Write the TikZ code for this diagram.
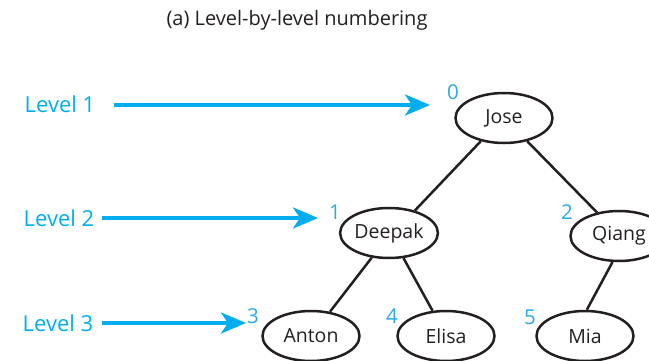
\documentclass[tikz,border=0pt]{standalone}
\usepackage{fontspec}
\setmainfont{Open Sans}
\usetikzlibrary{arrows.meta,shapes.geometric}
\definecolor{lvlblue}{RGB}{0,174,239}
\definecolor{numblue}{RGB}{41,171,226}
\definecolor{ink}{RGB}{35,31,32}
\begin{document}
\begin{tikzpicture}[x=1pt,y=-1pt,
  person/.style={ellipse,draw=ink,line width=2.5pt,minimum width=97pt,minimum height=50pt,inner sep=0pt,text=ink,font=\fontsize{19.5}{22}\selectfont},
  lvl/.style={text=lvlblue,font=\fontsize{22}{24}\selectfont,inner sep=0pt},
  num/.style={text=numblue,font=\fontsize{20.5}{22}\selectfont,inner sep=0pt},
  levelarrow/.style={draw=lvlblue,line width=4pt,-{Stealth[length=25pt,width=21pt,inset=7pt]}},
  edge/.style={draw=ink,line width=2.5pt}]
\useasboundingbox (0,0) rectangle (649,361);
\node[text=ink,font=\fontsize{20}{22}\selectfont,inner sep=0pt] (title) at (297,20) {(a) Level-by-level numbering};
% tree nodes
\node[person] (jose) at (504,118) {Jose};
\node[person] (deepak) at (389,233) {Deepak};
\node[person] (qiang) at (619,236) {Qiang};
\node[person] (anton) at (311,336) {Anton};
\node[person] (elisa) at (446,336) {Elisa};
\node[person] (mia) at (585,336) {Mia};
% numbers
\node[num] (n0) at (453,92) {0};
\node[num] (n1) at (335,212) {1};
\node[num] (n2) at (567,212) {2};
\node[num] (n3) at (253,316) {3};
\node[num] (n4) at (392,316) {4};
\node[num] (n5) at (530,317) {5};
% edges
\draw[edge] (jose.225) -- (deepak.41);
\draw[edge] (jose.315) -- (qiang.133);
\draw[edge] (deepak.235) -- (anton.52);
\draw[edge] (deepak.300) -- (elisa.118);
\draw[edge] (qiang.256) -- (mia.86);
% level labels
\node[lvl] (l1) at (60,104) {Level 1};
\node[lvl] (l2) at (59,218) {Level 2};
\node[lvl] (l3) at (58,323) {Level 3};
\coordinate (t1) at (430,105);
\coordinate (t2) at (318,218);
\coordinate (t3) at (246,323);
\coordinate (s1) at (114,105);
\coordinate (s2) at (102,218);
\coordinate (s3) at (102,323);
\draw[levelarrow] (s1) -- (t1);
\draw[levelarrow] (s2) -- (t2);
\draw[levelarrow] (s3) -- (t3);
\end{tikzpicture}
\end{document}
